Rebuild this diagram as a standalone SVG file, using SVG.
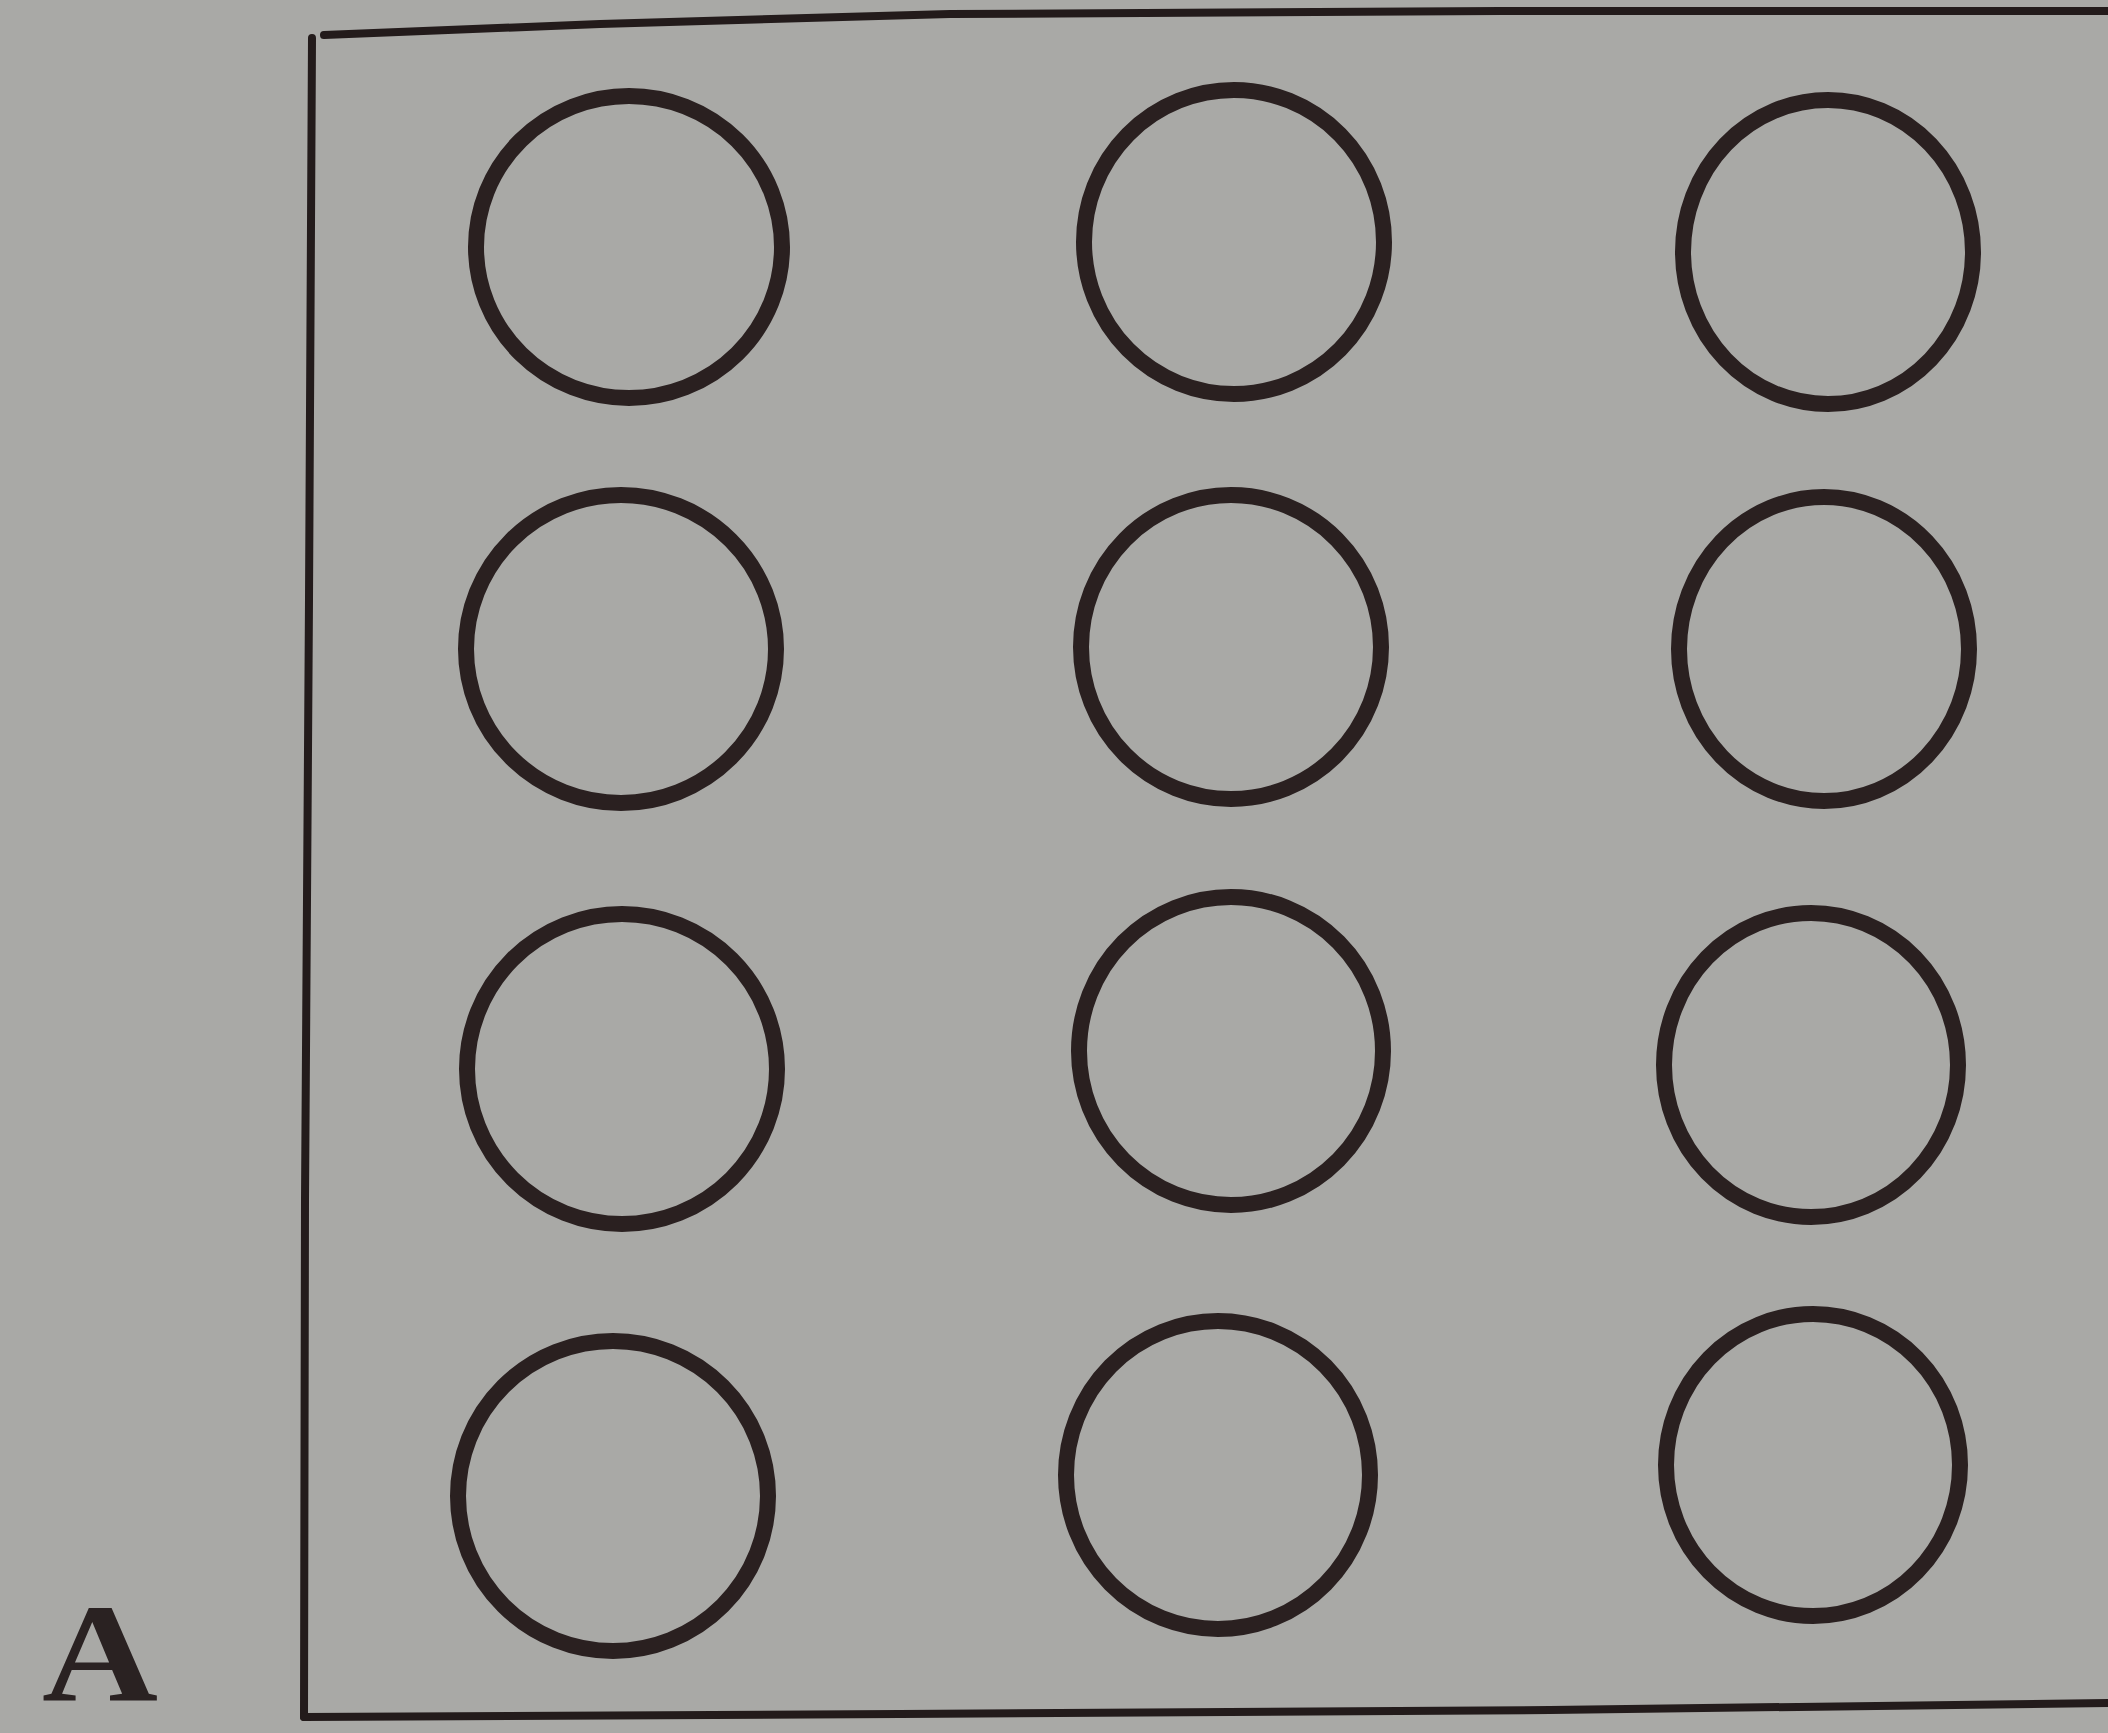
<svg xmlns="http://www.w3.org/2000/svg" width="2108" height="1733" viewBox="0 0 2108 1733">
<style>
.bg{fill:#a9a9a6}
.frame{fill:none;stroke:#231b1b;stroke-width:8;stroke-linejoin:round;stroke-linecap:round}
.ring{fill:none;stroke:#2a2020;stroke-width:16}
.lbl{font-family:"Liberation Serif","DejaVu Serif",serif;font-size:140px;fill:#2a2222;font-weight:bold}
</style>
<rect class="bg" x="0" y="0" width="2108" height="1733"/>
<g id="frame">
<polyline class="frame" points="2108,11 1500,11 950,14 600,24 324,35"/>
<polyline class="frame" points="312,38 309,600 305,1200 304,1717"/>
<polyline class="frame" points="304,1717 900,1714 1550,1710 2108,1703"/>
</g>
<g id="c11"><ellipse class="ring" cx="629" cy="247" rx="153" ry="151"/></g>
<g id="c12"><ellipse class="ring" cx="1234" cy="242" rx="150" ry="152"/></g>
<g id="c13"><ellipse class="ring" cx="1828" cy="252" rx="145" ry="152"/></g>
<g id="c21"><ellipse class="ring" cx="621" cy="649" rx="155" ry="154"/></g>
<g id="c22"><ellipse class="ring" cx="1231" cy="647" rx="150" ry="152"/></g>
<g id="c23"><ellipse class="ring" cx="1824" cy="649" rx="145" ry="152"/></g>
<g id="c31"><ellipse class="ring" cx="622" cy="1069" rx="155" ry="155"/></g>
<g id="c32"><ellipse class="ring" cx="1231" cy="1051" rx="152" ry="154"/></g>
<g id="c33"><ellipse class="ring" cx="1811" cy="1065" rx="147" ry="152"/></g>
<g id="c41"><ellipse class="ring" cx="613" cy="1496" rx="155" ry="155"/></g>
<g id="c42"><ellipse class="ring" cx="1218" cy="1475" rx="152" ry="154"/></g>
<g id="c43"><ellipse class="ring" cx="1813" cy="1465" rx="147" ry="151"/></g>
<text id="label-A" class="lbl" x="42" y="1701" textLength="116" lengthAdjust="spacingAndGlyphs">A</text>
</svg>
